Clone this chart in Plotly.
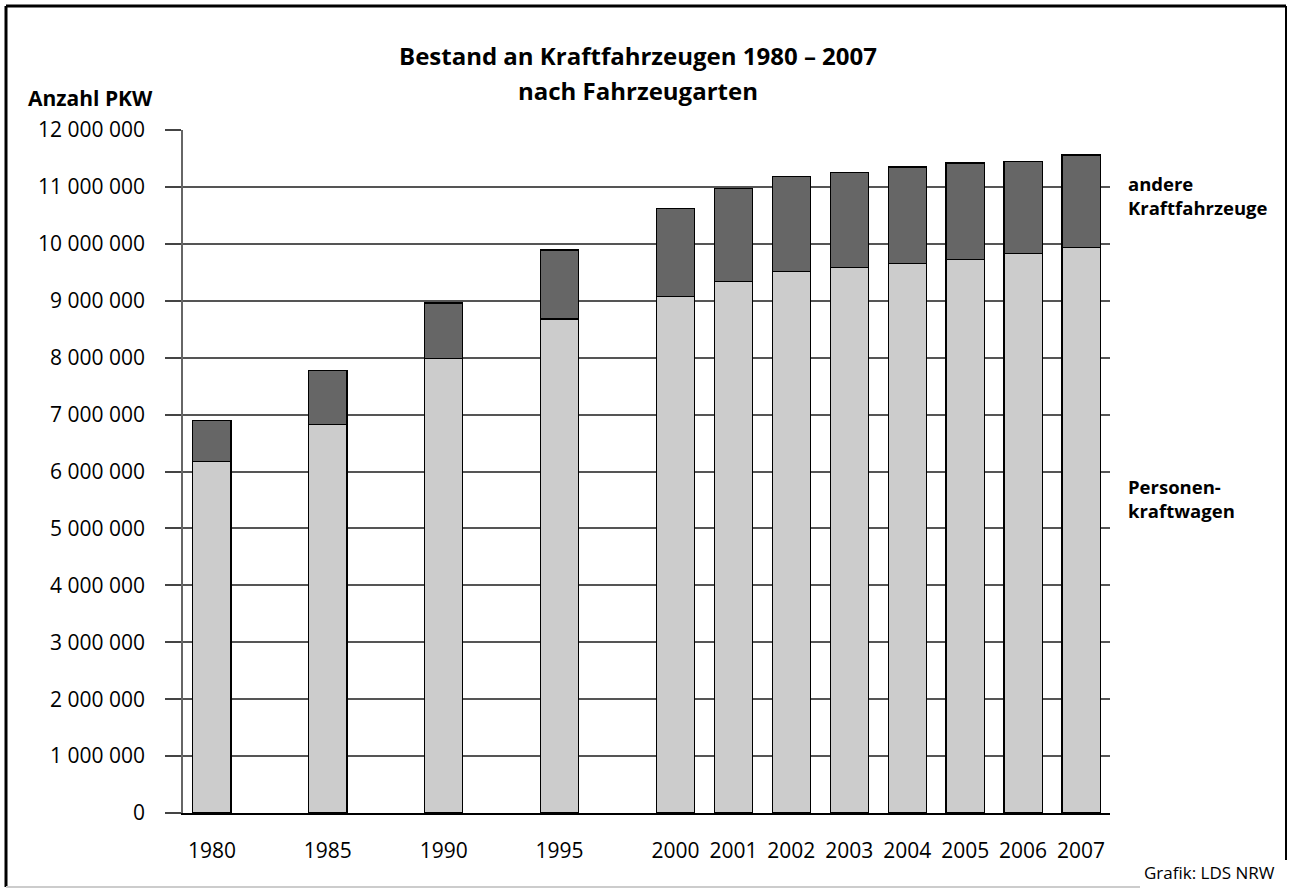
import plotly.graph_objects as go

years = [1980, 1985, 1990, 1995, 2000, 2001, 2002, 2003, 2004, 2005, 2006, 2007]
pkw = [6170000, 6830000, 7990000, 8680000, 9070000, 9340000, 9520000, 9580000, 9660000, 9730000, 9830000, 9930000]
andere = [730000, 940000, 970000, 1210000, 1550000, 1630000, 1670000, 1680000, 1690000, 1690000, 1610000, 1630000]
y_ticks = [0, 1000000, 2000000, 3000000, 4000000, 5000000, 6000000, 7000000, 8000000, 9000000, 10000000, 11000000, 12000000]

# slot position: five-year steps take two slots, yearly steps one slot
def slot(y):
    return (y - 1980) / 5 * 2 if y <= 2000 else 8 + (y - 2000)

xpos = [slot(y) for y in years]
FONT = "Open Sans"

W, H = 1289, 890
L, R, T, B = 183, 179, 130, 77
PW, PH = W - L - R, H - T - B

def px(x):  # page pixel -> paper x
    return (x - L) / PW

def py(y):  # page pixel -> paper y
    return (H - B - y) / PH

fig = go.Figure()
fig.add_trace(go.Bar(x=xpos, y=pkw, name="Personenkraftwagen", width=0.66,
                     marker=dict(color="#cccccc", line=dict(color="#000000", width=1.2))))
fig.add_trace(go.Bar(x=xpos, y=andere, name="andere Kraftfahrzeuge", width=0.66,
                     marker=dict(color="#666666", line=dict(color="#000000", width=1.2))))

fig.update_layout(
    barmode="stack",
    width=W, height=H,
    margin=dict(l=L, r=R, t=T, b=B),
    paper_bgcolor="white", plot_bgcolor="white",
    showlegend=False,
    separators=", ",
    font=dict(family=FONT, color="#000000", size=21),
    xaxis=dict(range=[-0.5, 15.5], tickvals=xpos, ticktext=[str(y) for y in years],
               showgrid=False, zeroline=False, showline=True, linecolor="#000000", linewidth=1.5,
               ticks="", ticklabelstandoff=18, tickfont=dict(size=21)),
    yaxis=dict(range=[0, 12000000], tickvals=y_ticks, tickformat=",d",
               showgrid=True, gridcolor="#555555", gridwidth=1.5,
               zeroline=False, showline=True, linecolor="#666666", linewidth=1.5,
               ticks="outside", ticklen=16, tickcolor="#444444", tickwidth=1.5,
               ticklabelstandoff=16, tickfont=dict(size=21)),
)

fig.add_annotation(text="<b>Bestand an Kraftfahrzeugen 1980 – 2007</b>", xref="paper", yref="paper",
                   x=px(638), y=py(55), xanchor="center", yanchor="middle", showarrow=False,
                   font=dict(size=24, family=FONT))
fig.add_annotation(text="<b>nach Fahrzeugarten</b>", xref="paper", yref="paper",
                   x=px(638), y=py(90), xanchor="center", yanchor="middle", showarrow=False,
                   font=dict(size=24, family=FONT))
fig.add_annotation(text="<b>Anzahl PKW</b>", xref="paper", yref="paper", x=px(26), y=py(98),
                   xanchor="left", yanchor="middle", showarrow=False, font=dict(size=21, family=FONT))
fig.add_annotation(text="<b>andere<br>Kraftfahrzeuge</b>", xref="paper", yref="paper", x=px(1126),
                   y=py(196), xanchor="left", yanchor="middle", align="left", showarrow=False,
                   font=dict(size=18.5, family=FONT))
fig.add_annotation(text="<b>Personen-<br>kraftwagen</b>", xref="paper", yref="paper", x=px(1126),
                   y=py(498), xanchor="left", yanchor="middle", align="left", showarrow=False,
                   font=dict(size=18.5, family=FONT))
fig.add_annotation(text="Grafik: LDS NRW", xref="paper", yref="paper", x=px(1277),
                   y=py(873), xanchor="right", yanchor="middle", showarrow=False,
                   font=dict(size=17, family=FONT))

# frame around the graphic
fig.add_shape(type="line", xref="paper", yref="paper", x0=px(6), x1=px(6),
              y0=py(887), y1=py(6), line=dict(color="#000000", width=3))
fig.add_shape(type="line", xref="paper", yref="paper", x0=px(6), x1=px(1286),
              y0=py(6), y1=py(6), line=dict(color="#000000", width=3))
fig.add_shape(type="line", xref="paper", yref="paper", x0=px(1286), x1=px(1286),
              y0=py(860), y1=py(6), line=dict(color="#000000", width=2))
fig.add_shape(type="line", xref="paper", yref="paper", x0=px(6), x1=px(1140),
              y0=py(887), y1=py(887), line=dict(color="#cccccc", width=2))

fig.write_html("out.html", config={"displayModeBar": False},
               post_script="document.body.style.margin='0';")
